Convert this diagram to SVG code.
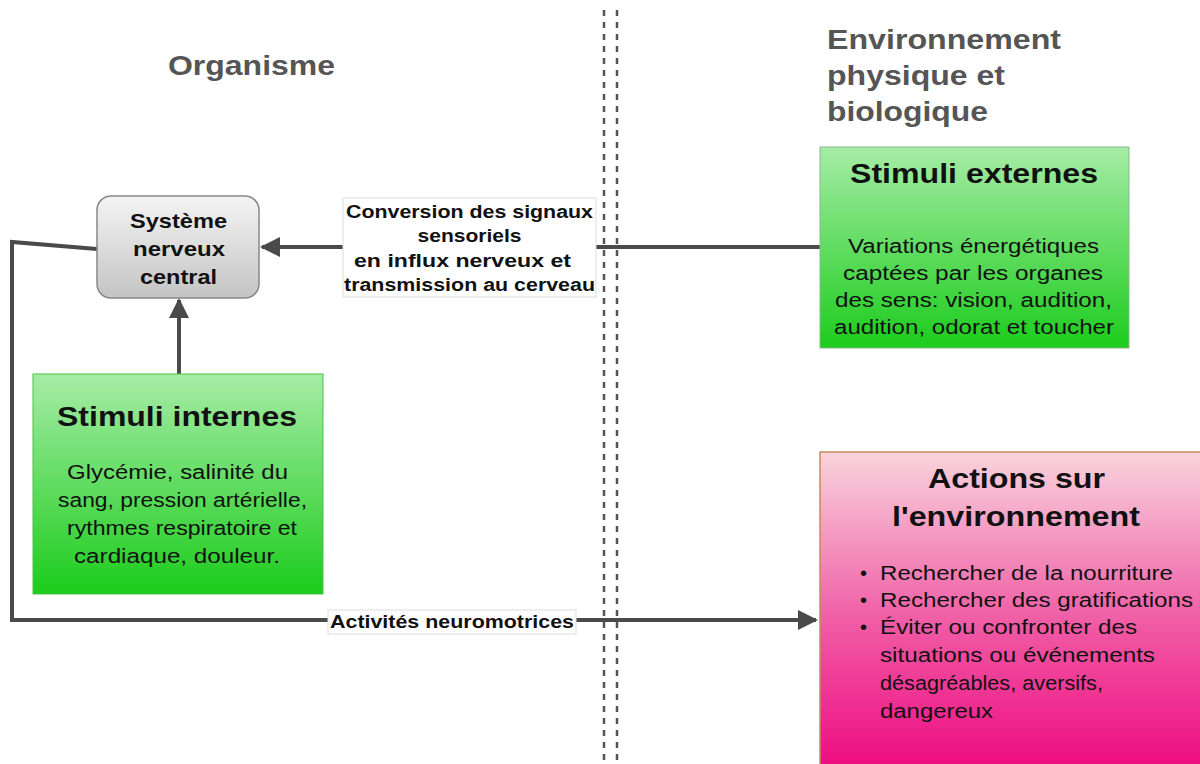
<svg xmlns="http://www.w3.org/2000/svg" width="1200" height="764" viewBox="0 0 1200 764">
  <defs>
    <linearGradient id="gGray" x1="0" y1="0" x2="0" y2="1">
      <stop offset="0" stop-color="#f4f4f4"/>
      <stop offset="1" stop-color="#c4c4c4"/>
    </linearGradient>
    <linearGradient id="gGreen" x1="0" y1="0" x2="0" y2="1">
      <stop offset="0" stop-color="#a6eca6"/>
      <stop offset="1" stop-color="#1ccc1c"/>
    </linearGradient>
    <linearGradient id="gPink" x1="0" y1="0" x2="0" y2="1">
      <stop offset="0" stop-color="#f8d4dc"/>
      <stop offset="0.55" stop-color="#f05aa4"/>
      <stop offset="1" stop-color="#ee0d82"/>
    </linearGradient>
    <marker id="arrow" viewBox="0 0 10 10" refX="9" refY="5" markerWidth="5" markerHeight="5" orient="auto" markerUnits="strokeWidth">
      <path d="M0,0 L10,5 L0,10 z" fill="#4a4a4a"/>
    </marker>
    <style>
      text { font-family: "Liberation Sans", Arial, sans-serif; fill: #111; }
      .head { font-size: 28px; font-weight: bold; fill: #555; }
      .title { font-size: 27px; font-weight: bold; text-anchor: middle; }
      .body { font-size: 20px; text-anchor: middle; }
      .list { font-size: 20px; }
      .snc { font-size: 21px; font-weight: bold; text-anchor: middle; }
      .lbl { font-size: 18px; font-weight: bold; text-anchor: middle; }
      .wire { fill: none; stroke: #4a4a4a; stroke-width: 4; }
      .sep { stroke: #555; stroke-width: 2.5; stroke-dasharray: 6 6; }
      .lblbox { fill: #fff; stroke: #ddd; stroke-width: 1; }
    </style>
  </defs>

  <rect width="1200" height="764" fill="#fff"/>

  <!-- boundary between organism and environment -->
  <line class="sep" x1="604" y1="10" x2="604" y2="764"/>
  <line class="sep" x1="617" y1="10" x2="617" y2="764"/>

  <!-- section headings -->
  <text class="head" x="168" y="75" textLength="167" lengthAdjust="spacingAndGlyphs">Organisme</text>
  <text class="head" x="827" y="49" textLength="234" lengthAdjust="spacingAndGlyphs">Environnement</text>
  <text class="head" x="827" y="85" textLength="178" lengthAdjust="spacingAndGlyphs">physique et</text>
  <text class="head" x="827" y="121" textLength="161" lengthAdjust="spacingAndGlyphs">biologique</text>

  <!-- connectors -->
  <g id="connectors">
    <line class="wire" x1="820" y1="247" x2="262" y2="247" marker-end="url(#arrow)"/>
    <line class="wire" x1="179" y1="374" x2="179" y2="300" marker-end="url(#arrow)"/>
    <polyline class="wire" points="97,249 12,242 12,620 816,620" marker-end="url(#arrow)"/>
    <rect class="lblbox" x="343" y="198" width="253" height="99"/>
    <text class="lbl" x="469.5" y="218" textLength="247" lengthAdjust="spacingAndGlyphs">Conversion des signaux</text>
    <text class="lbl" x="469.5" y="242" textLength="104" lengthAdjust="spacingAndGlyphs">sensoriels</text>
    <text class="lbl" x="462.5" y="267" textLength="217" lengthAdjust="spacingAndGlyphs">en influx nerveux et</text>
    <text class="lbl" x="469.5" y="291" textLength="251" lengthAdjust="spacingAndGlyphs">transmission au cerveau</text>
    <rect class="lblbox" x="328" y="610" width="248" height="24"/>
    <text class="lbl" x="452" y="628" textLength="244" lengthAdjust="spacingAndGlyphs">Activités neuromotrices</text>
  </g>

  <g id="snc">
    <rect x="97" y="196" width="162" height="102" rx="14" fill="url(#gGray)" stroke="#888" stroke-width="1.5"/>
    <text class="snc" x="178.5" y="228" textLength="97" lengthAdjust="spacingAndGlyphs">Système</text>
    <text class="snc" x="179" y="256" textLength="92" lengthAdjust="spacingAndGlyphs">nerveux</text>
    <text class="snc" x="178.5" y="284" textLength="77" lengthAdjust="spacingAndGlyphs">central</text>
  </g>

  <g id="stimuli-internes">
    <rect x="33" y="374" width="290" height="220" fill="url(#gGreen)" stroke="#44c444" stroke-width="1"/>
    <text class="title" x="177" y="426" textLength="240" lengthAdjust="spacingAndGlyphs">Stimuli internes</text>
    <text class="body" x="177.5" y="479" textLength="221" lengthAdjust="spacingAndGlyphs">Glycémie, salinité du</text>
    <text class="body" x="182.5" y="507" textLength="249" lengthAdjust="spacingAndGlyphs">sang, pression artérielle,</text>
    <text class="body" x="182" y="535" textLength="230" lengthAdjust="spacingAndGlyphs">rythmes respiratoire et</text>
    <text class="body" x="177" y="563" textLength="206" lengthAdjust="spacingAndGlyphs">cardiaque, douleur.</text>
  </g>

  <g id="stimuli-externes">
    <rect x="820" y="147" width="309" height="201" fill="url(#gGreen)" stroke="#8bb88b" stroke-width="1"/>
    <text class="title" x="974" y="183" textLength="248" lengthAdjust="spacingAndGlyphs">Stimuli externes</text>
    <text class="body" x="973.5" y="253" textLength="251" lengthAdjust="spacingAndGlyphs">Variations énergétiques</text>
    <text class="body" x="973" y="280" textLength="260" lengthAdjust="spacingAndGlyphs">captées par les organes</text>
    <text class="body" x="973.5" y="307" textLength="277" lengthAdjust="spacingAndGlyphs">des sens: vision, audition,</text>
    <text class="body" x="974" y="334" textLength="280" lengthAdjust="spacingAndGlyphs">audition, odorat et toucher</text>
  </g>

  <g id="actions">
    <rect x="820" y="452" width="382" height="314" fill="url(#gPink)" stroke="#c98a5a" stroke-width="1.5"/>
    <text class="title" x="1016.5" y="488" textLength="177" lengthAdjust="spacingAndGlyphs">Actions sur</text>
    <text class="title" x="1016" y="526" textLength="248" lengthAdjust="spacingAndGlyphs">l'environnement</text>
    <text class="list" x="860" y="580">•</text>
    <text class="list" x="880" y="580" textLength="293" lengthAdjust="spacingAndGlyphs">Rechercher de la nourriture</text>
    <text class="list" x="860" y="607">•</text>
    <text class="list" x="880" y="607" textLength="313" lengthAdjust="spacingAndGlyphs">Rechercher des gratifications</text>
    <text class="list" x="860" y="634">•</text>
    <text class="list" x="880" y="634" textLength="257" lengthAdjust="spacingAndGlyphs">Éviter ou confronter des</text>
    <text class="list" x="880" y="662" textLength="275" lengthAdjust="spacingAndGlyphs">situations ou événements</text>
    <text class="list" x="880" y="690" textLength="223" lengthAdjust="spacingAndGlyphs">désagréables, aversifs,</text>
    <text class="list" x="880" y="718" textLength="113" lengthAdjust="spacingAndGlyphs">dangereux</text>
  </g>
</svg>
